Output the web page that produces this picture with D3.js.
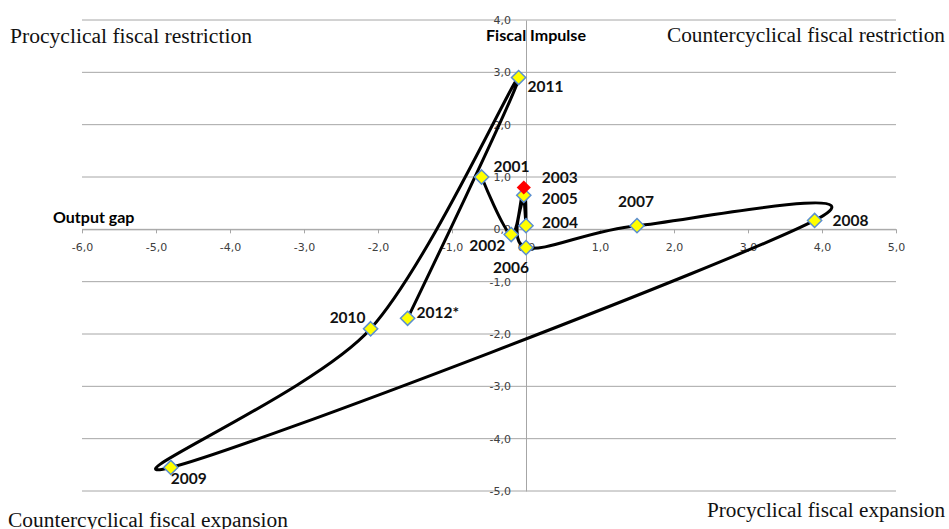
<!DOCTYPE html>
<html>
<head>
<meta charset="utf-8">
<script src="https://cdn.jsdelivr.net/npm/d3@7"></script>
<style>
  body { margin: 0; background: #fff; }
  svg { display: block; }
</style>
</head>
<body>
<div id="chart"></div>
<script>
// data
const years = ["2001", "2002", "2003", "2004", "2005", "2006", "2007", "2008", "2009", "2010", "2011", "2012*"];
const outputGap = [-0.6, -0.2, -0.03, 0.0, -0.03, 0.0, 1.5, 3.9, -4.8, -2.1, -0.1, -1.6];
const fiscalImpulse = [1.0, -0.1, 0.8, 0.07, 0.65, -0.35, 0.07, 0.17, -4.55, -1.9, 2.9, -1.7];
const highlightYear = "2003";

const xTicks = [-6, -5, -4, -3, -2, -1, 0, 1, 2, 3, 4, 5];
const yTicks = [-5, -4, -3, -2, -1, 0, 1, 2, 3, 4];

const quadrants = ["Procyclical fiscal restriction", "Countercyclical fiscal restriction",
  "Countercyclical fiscal expansion", "Procyclical fiscal expansion"];

const data = years.map((y, i) => ({year: y, x: outputGap[i], y: fiscalImpulse[i]}));

// where each year label sits, relative to its marker
const labelPos = {
  "2001": [12, -5, "start"], "2002": [-6, 16, "end"], "2003": [18, -4, "start"],
  "2004": [16, 2, "start"], "2005": [18, 9, "start"], "2006": [-15, 25, "middle"],
  "2007": [-1, -19, "middle"], "2008": [18, 6, "start"], "2009": [0, 17, "start"],
  "2010": [-5, -6, "end"], "2011": [9, 14, "start"], "2012*": [9, 0, "start"]
};

const w = 949;
const h = 529;

const xScale = d3.scaleLinear().domain([-6, 5]).range([82, 896]);
const yScale = d3.scaleLinear().domain([-5, 4]).range([491, 20]);

const fmt = (d) => d3.format(".1f")(d).replace(".", ",").replace("−", "-");

let svg = d3.select('#chart')
  .append('svg')
  .attr('width', w)
  .attr('height', h)
  .style('background-color', '#fff');

// horizontal gridlines
svg.append('g').selectAll('line')
  .data(yTicks)
  .enter()
  .append('line')
  .attr('x1', xScale(-6))
  .attr('x2', xScale(5))
  .attr('y1', (d) => yScale(d))
  .attr('y2', (d) => yScale(d))
  .attr('stroke', '#a6a6a6')
  .attr('stroke-width', 1);

const xAxis = d3.axisBottom(xScale).tickValues(xTicks).tickFormat(fmt).tickSize(4).tickSizeOuter(0).tickPadding(10);
const yAxis = d3.axisLeft(yScale).tickValues(yTicks).tickFormat(fmt).tickSize(0).tickPadding(15);

let gx = svg.append('g').attr('transform', `translate(0, ${yScale(0)})`).call(xAxis);
let gy = svg.append('g').attr('transform', `translate(${xScale(0)}, 0)`).call(yAxis);

[gx, gy].forEach((g) => {
  g.selectAll('path, line').attr('stroke', '#a6a6a6');
  g.selectAll('text')
    .style('font-family', 'DejaVu Sans, Verdana, sans-serif')
    .style('font-size', '11px')
    .attr('fill', '#404040');
});

// axis titles
svg.append('text').attr('x', 486).attr('y', 40.5).text('Fiscal Impulse')
  .attr('textLength', 100).attr('lengthAdjust', 'spacingAndGlyphs')
  .style('font-family', 'Lato, Calibri, sans-serif').style('font-weight', 'bold').style('font-size', '15px');
svg.append('text').attr('x', 53).attr('y', 223).text('Output gap')
  .style('font-family', 'Lato, Calibri, sans-serif').style('font-weight', 'bold').style('font-size', '16px');

// quadrant captions: x, baseline, anchor, width
const qPos = [[10, 43, 'start', 242], [945, 42, 'end', 278], [8, 527, 'start', 280], [945, 517, 'end', 238]];
svg.append('g').selectAll('text')
  .data(quadrants)
  .enter()
  .append('text')
  .attr('x', (d, i) => qPos[i][0])
  .attr('y', (d, i) => qPos[i][1])
  .attr('text-anchor', (d, i) => qPos[i][2])
  .attr('textLength', (d, i) => qPos[i][3])
  .attr('lengthAdjust', 'spacingAndGlyphs')
  .text((d) => d)
  .style('font-family', 'Liberation Serif, Times New Roman, serif')
  .style('font-size', '20px')
  .attr('fill', '#111');

// smoothed path through the years
const line = d3.line()
  .x((d) => xScale(d.x))
  .y((d) => yScale(d.y))
  .curve(d3.curveCatmullRom.alpha(0));

svg.append('path')
  .datum(data)
  .attr('d', line)
  .attr('fill', 'none')
  .attr('stroke', '#000')
  .attr('stroke-width', 3)
  .attr('stroke-linejoin', 'round');

// markers, the highlighted one on top
const diamond = d3.symbol().type(d3.symbolDiamond2).size(128);
const ordered = data.filter((d) => d.year !== highlightYear).concat(data.filter((d) => d.year === highlightYear));

svg.append('g').selectAll('path')
  .data(ordered)
  .enter()
  .append('path')
  .attr('d', diamond)
  .attr('transform', (d) => `translate(${xScale(d.x)}, ${yScale(d.y)})`)
  .attr('fill', (d) => d.year === highlightYear ? '#ff0000' : '#ffff00')
  .attr('stroke', (d) => d.year === highlightYear ? 'none' : '#5b8fd0')
  .attr('stroke-width', 1.5);

// year labels
svg.append('g').selectAll('text')
  .data(data)
  .enter()
  .append('text')
  .attr('x', (d) => xScale(d.x) + labelPos[d.year][0])
  .attr('y', (d) => yScale(d.y) + labelPos[d.year][1])
  .attr('text-anchor', (d) => labelPos[d.year][2])
  .text((d) => d.year)
  .style('font-family', 'Lato, Calibri, sans-serif')
  .style('font-weight', 'bold')
  .style('font-size', '15.5px')
  .attr('fill', '#111');
</script>
</body>
</html>
